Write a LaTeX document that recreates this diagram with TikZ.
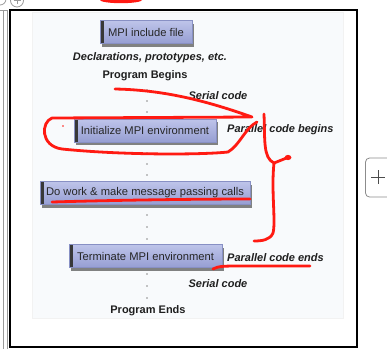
\documentclass[tikz,border=0pt]{standalone}
\usepackage{fontspec}
\setmainfont{Liberation Sans}
\definecolor{boxtop}{HTML}{BEC4EA}
\definecolor{boxbot}{HTML}{969ED2}
\definecolor{boxedge}{HTML}{8890C4}
\definecolor{penred}{HTML}{FF1A12}
\definecolor{panel}{HTML}{F8FAFC}
\definecolor{uigray}{HTML}{9A9A9A}
\begin{document}
\begin{tikzpicture}[x=1pt,y=-1pt,
  mpibox/.style={minimum height=23pt, inner sep=0pt, font=\fontsize{11.2}{13}\selectfont,
    text=black!85, top color=boxtop, bottom color=boxbot, draw=boxedge, line width=0.4pt,
    preaction={fill=black!65, opacity=0.75, transform canvas={xshift=1.5pt,yshift=-3pt}},
    path picture={\fill[black!78] (path picture bounding box.north west) rectangle ([xshift=3.5pt]path picture bounding box.south west);}},
  lab/.style={font=\fontsize{11}{13}\selectfont\bfseries\itshape, text=black!88, inner sep=0pt},
  plab/.style={font=\fontsize{11}{13}\selectfont\bfseries, text=black!88, inner sep=0pt},
  dotmark/.style={fill=black!45},
  pen/.style={draw=penred, line width=2.8pt, line cap=round, line join=round},
  ui/.style={draw=uigray, line width=0.8pt}]
\useasboundingbox (0,0) rectangle (387,349);
\fill[white] (0,0) rectangle (387,349);
% browser-like UI bits
\draw[ui] (0,-1) circle (6);
\draw[ui] (17,0.5) circle (6.5);
\draw[ui, line width=0.7pt] (13.5,0.5) -- (20.5,0.5) (17,-3) -- (17,4);
\draw[ui] (0,10) -- (8,10);
\draw[ui] (3.5,10) -- (3.5,349);
\draw[ui] (7.5,10) -- (7.5,349);
\draw[draw=black!45, line width=0.8pt, rounded corners=4pt, fill=white] (365.5,158) rectangle (395,197);
\draw[black!70, line width=1pt] (371,177) -- (385,177) (378,170) -- (378,184);
% frame and panel
\fill[panel] (32,12) rectangle (343,318);
\draw[black!5, line width=0.5pt] (32,12) rectangle (343,318);
\draw[black, line width=1.3pt] (10,10) rectangle (357,347);
% boxes
\node[mpibox, minimum width=92pt]  (inc)  at (146,32)    {MPI include file};
\node[mpibox, minimum width=142pt] (init) at (145,130.5) {Initialize MPI environment};
\node[mpibox, minimum width=210pt] (work) at (145,193)   {Do work \& make message passing calls};
\node[mpibox, minimum width=153pt] (term) at (145.5,256) {Terminate MPI environment};
% labels
\node[lab]  (decl) at (150,58)  {Declarations, prototypes, etc.};
\node[plab] (pbeg) at (145,76)  {Program Begins};
\node[lab]  (ser1) at (218,96)  {Serial code};
\node[lab, anchor=west] (par1) at (227,130) {Parallel code begins};
\node[lab, anchor=west] (par2) at (227,258) {Parallel code ends};
\node[lab]  (ser2) at (218,284) {Serial code};
\node[plab] (pend) at (148,311) {Program Ends};
% dots
\foreach \y in {90,101,112,153,164,175,215,227,239,274,286,298}
  \fill[dotmark] (147,\y) circle (0.9);
% red annotations
\fill[penred] (121,0) ellipse (21 and 3.2);
\draw[pen] (115,89) .. controls (170,90) and (215,104) .. (252,117) -- (52,118)
  .. controls (41,122) and (40,146) .. (62,149)
  .. controls (120,155) and (200,155) .. (228,152)
  .. controls (240,145) and (245,128) .. (257,122);
\fill[penred] (63,126) circle (0.9);
\draw[pen] (264,114) .. controls (265,140) and (263,158) .. (274,163) -- (289,157);
\fill[penred] (288,157.5) ellipse (3.4 and 2.6);
\draw[pen] (274,163) .. controls (271,190) and (276,222) .. (273,233)
  .. controls (270,240) and (262,241) .. (254,241);
\draw[pen] (52,202) .. controls (120,200) and (200,199) .. (250,199);
\draw[pen] (213,269) .. controls (218,266) and (225,266) .. (240,266) -- (310,266);
\end{tikzpicture}
\end{document}
